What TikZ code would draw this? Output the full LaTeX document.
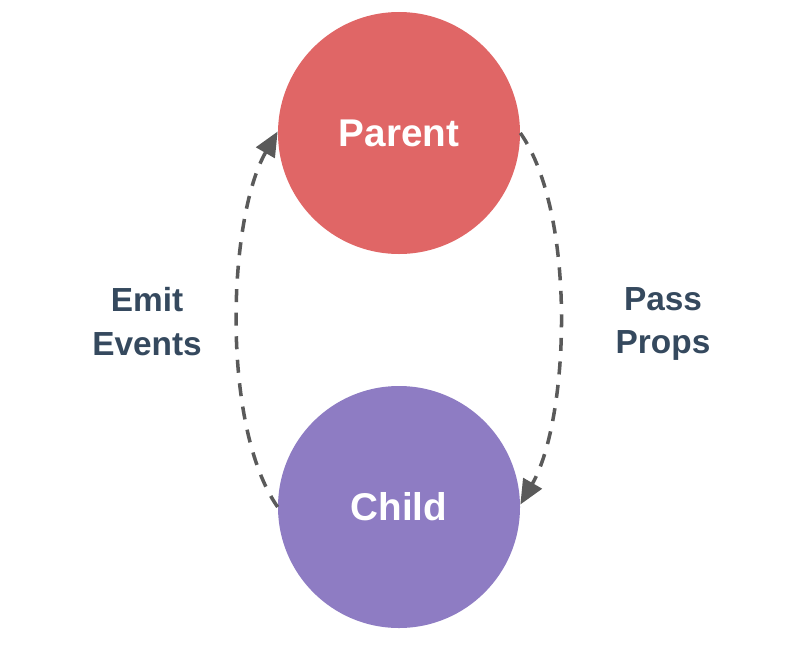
\documentclass[tikz,border=0pt]{standalone}
\usepackage{fontspec}
\setmainfont{Liberation Sans}
\usepackage{xcolor}
\usepackage{tikz}
\usetikzlibrary{arrows.meta}
\definecolor{parentred}{RGB}{224,102,102}
\definecolor{childpurple}{RGB}{142,124,195}
\definecolor{labelslate}{RGB}{53,73,94}
\definecolor{arrowgrey}{RGB}{90,90,90}
\tikzstyle{comp}=[circle, minimum size=4.84cm, inner sep=0pt,% a big filled disc
text=white, font=\fontsize{22}{26}\selectfont\bfseries]
\tikzstyle{flow}=[draw=arrowgrey, line width=2pt, dash pattern=on 7.4pt off 6pt,
-{Triangle[length=14pt,width=12pt]}]
\tikzstyle{lbl}=[align=center, text=labelslate, font=\fontsize{19}{25}\selectfont\bfseries]

\begin{document}
\begin{tikzpicture}
\useasboundingbox (0,0) rectangle (15.8,12.92);
\node[comp,fill=parentred] (parent) at (7.98,10.26) {Parent};
\node[comp,fill=childpurple] (child) at (7.98,2.78) {Child};
\node[lbl] (emit) at (2.94,6.48) {Emit\\Events};
\node[lbl] (pass) at (13.26,6.44) {Pass\\Props};
\draw[flow] (parent.east) to[out=-55,in=60,looseness=0.68] ([yshift=0.05cm]child.east);
\draw[flow] (child.west) to[out=125,in=-120,looseness=0.68] ([yshift=0.03cm]parent.west);
\end{tikzpicture}
\end{document}
